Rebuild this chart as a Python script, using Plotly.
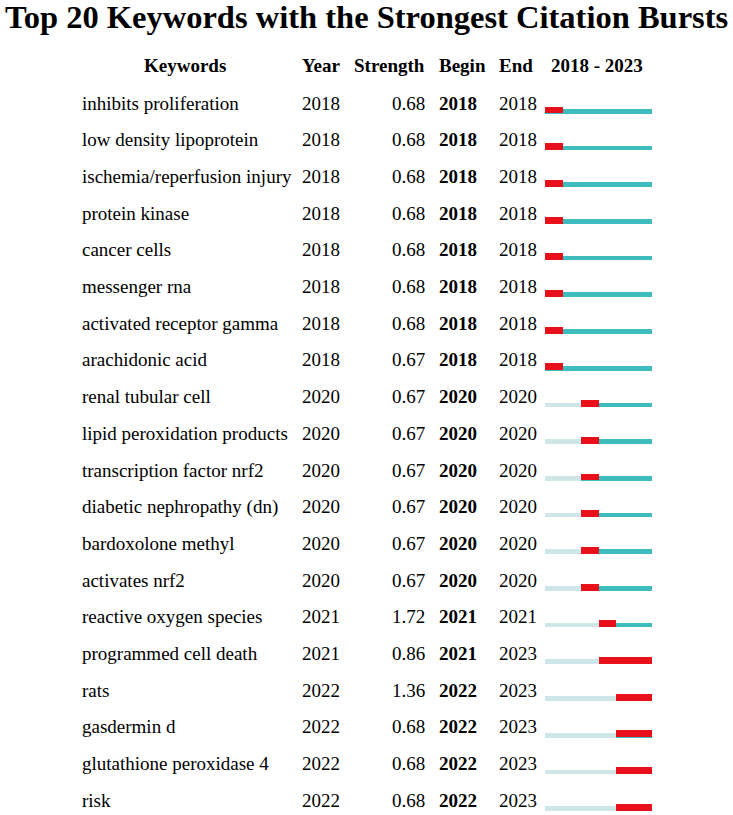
import plotly.graph_objects as go

W, H = 733, 815

keywords = [
    "inhibits proliferation", "low density lipoprotein", "ischemia/reperfusion injury",
    "protein kinase", "cancer cells", "messenger rna", "activated receptor gamma",
    "arachidonic acid", "renal tubular cell", "lipid peroxidation products",
    "transcription factor nrf2", "diabetic nephropathy (dn)", "bardoxolone methyl",
    "activates nrf2", "reactive oxygen species", "programmed cell death", "rats",
    "gasdermin d", "glutathione peroxidase 4", "risk",
]
years = [2018] * 8 + [2020] * 6 + [2021, 2021, 2022, 2022, 2022, 2022]
strength = [0.68] * 7 + [0.67] * 7 + [1.72, 0.86, 1.36, 0.68, 0.68, 0.68]
begin = [2018] * 8 + [2020] * 6 + [2021, 2021, 2022, 2022, 2022, 2022]
end = [2018] * 8 + [2020] * 6 + [2021, 2023, 2023, 2023, 2023, 2023]
range_start, range_end = 2018, 2023

headers = ["Keywords", "Year", "Strength", "Begin", "End", f"{range_start} - {range_end}"]
title = "Top 20 Keywords with the Strongest Citation Bursts"

rows = list(range(len(keywords)))
FONT = "Liberation Serif, Times New Roman, serif"
RED, TEAL, LIGHT = "#E8111B", "#3FBDBE", "#CFE6E9"


def px_x(px):
    return px / W


def px_y(py):
    return 1 - py / H


fig = go.Figure()
fig.add_trace(go.Bar(
    y=rows, base=[range_start] * len(rows), x=[y - range_start for y in years],
    orientation="h", marker=dict(color=LIGHT, line_width=0),
    width=0.13, offset=-0.03, hoverinfo="skip"))
fig.add_trace(go.Bar(
    y=rows, base=years, x=[range_end + 1 - y for y in years],
    orientation="h", marker=dict(color=TEAL, line_width=0),
    width=0.13, offset=-0.03, hoverinfo="skip"))
fig.add_trace(go.Bar(
    y=rows, base=begin, x=[e + 1 - b for b, e in zip(begin, end)],
    orientation="h", marker=dict(color=RED, line_width=0),
    width=0.19, offset=-0.095, hoverinfo="skip"))

row0, step = 110, 36.7
fig.update_layout(
    width=W, height=H, margin=dict(l=0, r=0, t=0, b=0),
    paper_bgcolor="white", plot_bgcolor="white", showlegend=False,
    barmode="overlay", bargap=0,
    xaxis=dict(domain=[px_x(545), px_x(652)], range=[range_start, range_end + 1],
               visible=False, fixedrange=True),
    yaxis=dict(domain=[0, 1], range=[(H - row0) / step, -row0 / step],
               visible=False, fixedrange=True),
)

ann = []
ann.append(dict(text=f"<b>{title}</b>", x=px_x(366.5), y=px_y(17.5), xref="paper", yref="paper",
                xanchor="center", yanchor="middle", showarrow=False,
                font=dict(family=FONT, size=32.5, color="black")))

hdr_pos = [(185, "center"), (300, "left"), (427, "right"), (437, "left"), (497, "left"), (597, "center")]
for h, (px, anc) in zip(headers, hdr_pos):
    ann.append(dict(text=f"<b>{h}</b>", x=px_x(px), y=px_y(66), xref="paper", yref="paper",
                    xanchor=anc, yanchor="middle", showarrow=False,
                    font=dict(family=FONT, size=19, color="black")))

for i in rows:
    cols = [
        (keywords[i], 80, "left", False),
        (str(years[i]), 300, "left", False),
        (f"{strength[i]:.2f}", 427, "right", False),
        (str(begin[i]), 437, "left", True),
        (str(end[i]), 497, "left", False),
    ]
    for txt, px, anc, bold in cols:
        ann.append(dict(text=f"<b>{txt}</b>" if bold else txt, x=px_x(px), y=i,
                        xref="paper", yref="y", yshift=7,
                        xanchor=anc, yanchor="middle", showarrow=False,
                        font=dict(family=FONT, size=19, color="black")))

fig.update_layout(annotations=ann)
fig.write_html(
    "out.html",
    config=dict(displayModeBar=False),
    post_script="document.body.style.margin='0';document.body.style.overflow='hidden';",
)
